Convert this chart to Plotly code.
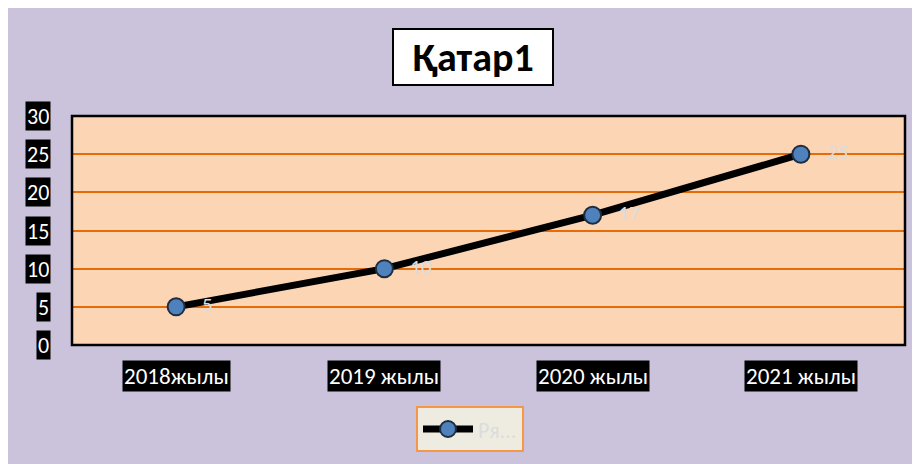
import plotly.graph_objects as go

categories = ["2018жылы", "2019 жылы", "2020 жылы", "2021 жылы"]
values = [5, 10, 17, 25]
y_ticks = [0, 5, 10, 15, 20, 25, 30]
series_name = "Ря..."
title_text = "Қатар1"

FONT = "Carlito, Lato, 'Liberation Sans', sans-serif"

# figure origin sits at page offset (8, 8) because of body margin
OX, OY = 8, 8
W, H = 912, 456
L, R, T, B = 64, 15, 108, 116
pw = W - L - R
ph = H - T - B

def px_to_paper_x(px):
    return (px - OX - L) / pw

def px_to_paper_y(py):
    return (H - B - (py - OY)) / ph

fig = go.Figure()
fig.add_trace(go.Scatter(
    x=categories, y=values, name=series_name,
    mode="lines+markers+text",
    line=dict(color="black", width=7),
    marker=dict(size=17, color="#4F81BD", line=dict(color="#1F2D40", width=2)),
    text=["   " + str(v) for v in values],
    textposition="middle right",
    textfont=dict(family=FONT, size=21, color="#DCDCDC"),
    cliponaxis=False,
))

shapes = [
    dict(type="rect", xref="paper", yref="paper", layer="above",
         x0=0, x1=1, y0=0, y1=1,
         line=dict(color="black", width=2.5)),
]

annotations = []
for t in y_ticks:
    annotations.append(dict(
        x=px_to_paper_x(51), xref="paper", y=t, yref="y",
        xanchor="right", yanchor="middle", showarrow=False,
        text=str(t), bgcolor="black", borderpad=1, height=26,
        font=dict(family=FONT, size=22, color="white")))
for c in categories:
    annotations.append(dict(
        x=c, xref="x", y=px_to_paper_y(379), yref="paper",
        xanchor="center", yanchor="middle", showarrow=False,
        text=c, bgcolor="black", borderpad=1, height=28,
        font=dict(family=FONT, size=23, color="white")))
annotations.append(dict(
    x=px_to_paper_x(473), xref="paper", y=px_to_paper_y(56), yref="paper",
    xanchor="center", yanchor="middle", showarrow=False,
    text="<b>" + title_text + "</b>", bgcolor="white",
    bordercolor="black", borderwidth=2, borderpad=0,
    width=158, height=54,
    font=dict(family=FONT, size=40, color="black")))

fig.update_layout(
    width=W, height=H,
    margin=dict(l=L, r=R, t=T, b=B, pad=0),
    paper_bgcolor="#CBC2DB",
    plot_bgcolor="#FCD5B5",
    shapes=shapes,
    annotations=annotations,
    showlegend=True,
    legend=dict(
        x=px_to_paper_x(470), xanchor="center",
        y=px_to_paper_y(410), yanchor="top",
        bgcolor="#EEECE1", bordercolor="#F79646", borderwidth=2,
        font=dict(family=FONT, size=22, color="#DCDCDC"),
        itemwidth=50,
    ),
    xaxis=dict(type="category", range=[-0.5, 3.5], showticklabels=False,
               showgrid=False, zeroline=False, showline=False, ticks=""),
    yaxis=dict(range=[0, 30], tickvals=y_ticks, showticklabels=False,
               showgrid=True, gridcolor="#E46C0A", gridwidth=2,
               zeroline=False, showline=False, ticks=""),
)

fig.write_html("out.html")
